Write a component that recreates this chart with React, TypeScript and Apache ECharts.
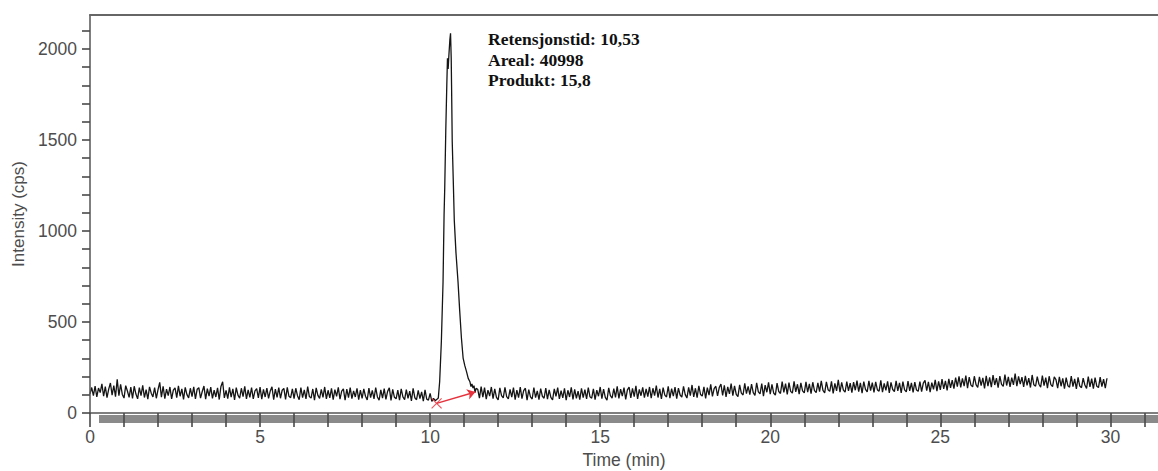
import React, { useEffect, useRef } from "react";
import * as echarts from "echarts";

// ---- Data ----
const sampleStep = 0.05; // min between baseline samples
const preStart = 0.0;
const prePeakIntensity = [
  105, 140, 96, 148, 88, 137, 112, 160, 92, 145, 84, 131, 165, 98, 150, 90, 185, 95, 158, 102,
  82, 150, 121, 86, 142, 80, 147, 104, 78, 139, 96, 152, 85, 128, 76, 144, 109, 88, 140, 81,
  128, 168, 87, 147, 79, 131, 95, 143, 77, 126, 138, 84, 149, 92, 133, 75, 141, 101, 83, 136,
  90, 144, 78, 130, 139, 82, 118, 148, 76, 134, 93, 142, 80, 125, 88, 138, 74, 146, 172, 83,
  124, 79, 141, 87, 133, 72, 139, 98, 81, 136, 90, 146, 77, 127, 86, 140, 78, 122, 134, 83,
  142, 76, 130, 88, 137, 80, 121, 144, 73, 131, 86, 139, 81, 125, 135, 75, 141, 92, 84, 133,
  79, 136, 95, 73, 140, 85, 127, 77, 145, 90, 82, 132, 71, 138, 97, 80, 130, 86, 143, 78,
  125, 83, 135, 74, 128, 91, 141, 76, 120, 133, 70, 131, 85, 139, 79, 122, 88, 136, 73, 126,
  81, 132, 92, 72, 137, 84, 124, 77, 140, 88, 71, 127, 82, 134, 75, 119, 138, 69, 130, 86,
  78, 126, 70, 133, 88, 74, 129, 80, 120, 67, 135, 84, 73, 124, 79, 116, 65, 127, 76, 71,
  108, 64, 80,
];
const peakTimes = [
  10.15, 10.2, 10.24, 10.28, 10.33, 10.38, 10.41, 10.43, 10.46, 10.49,
  10.51, 10.53, 10.55, 10.58, 10.6, 10.62, 10.63, 10.65, 10.68, 10.71,
  10.76, 10.82, 10.87, 10.92, 10.97, 11.02, 11.07, 11.12, 11.17, 11.2,
  11.23, 11.26, 11.29, 11.32, 11.35,
];
const peakIntensity = [
  68, 75, 82, 172, 392, 721, 1088, 1240, 1550, 1800,
  1949, 1890, 1960, 2050, 2086, 1950, 1802, 1491, 1280, 1060,
  880, 721, 560, 412, 302, 260, 227, 190, 172, 145,
  160, 137, 150, 112, 135,
];
const postStart = 11.4;
const postPeakIntensity = [
  130, 82, 145, 87, 139, 76, 126, 93, 143, 79, 133, 86, 72, 138, 96, 83, 141, 90, 77, 130,
  87, 139, 74, 126, 84, 142, 79, 123, 136, 71, 129, 89, 77, 140, 85, 121, 73, 134, 92, 81,
  137, 76, 127, 86, 72, 133, 92, 139, 78, 123, 83, 135, 70, 125, 88, 141, 75, 130, 81, 120,
  74, 136, 84, 128, 77, 140, 89, 81, 133, 74, 126, 92, 143, 79, 131, 86, 70, 138, 95, 82,
  134, 86, 146, 80, 131, 93, 139, 75, 127, 142, 83, 135, 90, 149, 77, 130, 95, 141, 84, 133,
  90, 143, 81, 136, 96, 150, 85, 132, 77, 140, 98, 88, 147, 82, 134, 93, 142, 79, 137, 99,
  87, 146, 101, 82, 141, 96, 154, 89, 136, 84, 149, 102, 93, 144, 80, 139, 98, 157, 91, 134,
  147, 94, 140, 159, 97, 152, 88, 143, 105, 162, 95, 149, 103, 90, 155, 109, 99, 163, 106, 146,
  101, 159, 112, 97, 166, 116, 105, 162, 93, 153, 114, 168, 103, 157, 110, 98, 164, 118, 107, 172,
  113, 161, 102, 167, 119, 109, 174, 116, 158, 104, 165, 122, 111, 171, 115, 160, 106, 169, 123, 112,
  166, 117, 177, 124, 111, 171, 128, 119, 174, 108, 163, 122, 182, 114, 168, 126, 115, 173, 121, 164,
  112, 170, 125, 178, 118, 165, 109, 173, 130, 116, 176, 123, 167, 113, 171, 127, 120, 179, 115, 163,
  124, 174, 111, 168, 129, 118, 177, 122, 165, 110, 172, 127, 116, 175, 121, 166, 113, 170, 126, 119,
  173, 117, 164, 179, 123, 171, 114, 167, 130, 182, 120, 174, 127, 186, 132, 176, 124, 188, 138, 180,
  134, 194, 145, 201, 141, 190, 148, 206, 137, 197, 153, 144, 202, 156, 140, 199, 150, 193, 135, 204,
  147, 196, 142, 208, 154, 192, 139, 203, 157, 146, 211, 151, 199, 143, 194, 155, 216, 148, 201, 159,
  197, 144, 204, 152, 192, 140, 209, 155, 147, 200, 158, 142, 206, 151, 195, 137, 202, 156, 145, 198,
  184, 136, 199, 147, 190, 134, 194, 150, 142, 203, 145, 188, 132, 196, 148, 139, 192, 154, 135, 200,
  143, 189, 134, 195, 147, 140, 197, 145, 186, 137, 191,
];
const integrationStart = [10.19, 53];
const integrationEnd = [11.33, 115];
const xTickValues = [
  0, 1, 2, 3, 4, 5, 6, 7, 8, 9, 10, 11, 12, 13, 14, 15, 16, 17, 18, 19, 20,
  21, 22, 23, 24, 25, 26, 27, 28, 29, 30, 31,
];
const xLabelValues = [0, 5, 10, 15, 20, 25, 30];
const yTickValues = [
  0, 100, 200, 300, 400, 500, 600, 700, 800, 900, 1000, 1100, 1200, 1300, 1400,
  1500, 1600, 1700, 1800, 1900, 2000, 2100,
];
const yLabelValues = [0, 500, 1000, 1500, 2000];
const annotationLines = ["Retensjonstid: 10,53", "Areal: 40998", "Produkt: 15,8"];
const xAxisName = "Time (min)";
const yAxisName = "Intensity (cps)";

const round2 = (v: number) => Math.round(v * 100) / 100;

export default function App() {
  const ref = useRef<HTMLDivElement>(null);
  useEffect(() => {
    if (!ref.current) return;
    const chart = echarts.init(ref.current, null, { renderer: "svg" });
    const traceData: number[][] = [];
    prePeakIntensity.forEach((v, i) => traceData.push([round2(preStart + i * sampleStep), v]));
    peakTimes.forEach((t, i) => traceData.push([t, peakIntensity[i]]));
    postPeakIntensity.forEach((v, i) => traceData.push([round2(postStart + i * sampleStep), v]));

    const axisColor = "#555555";
    const labelFont = "Liberation Sans, Arial, sans-serif";

    chart.setOption({
      animation: false,
      backgroundColor: "#ffffff",
      grid: {
        left: 90,
        right: 0,
        top: 15,
        bottom: 58,
        containLabel: false,
        outerBoundsMode: "none",
      },
      xAxis: [
        {
          type: "value",
          min: 0,
          max: 31.4,
          position: "bottom",
          z: 5,
          name: xAxisName,
          nameLocation: "middle",
          nameGap: 38,
          nameTextStyle: { fontSize: 17.5, color: "#4d4d4d", fontFamily: labelFont },
          axisLine: { show: true, onZero: false, lineStyle: { color: axisColor, width: 1.5 } },
          axisTick: {
            show: true,
            length: 14,
            customValues: xTickValues,
            lineStyle: { color: "#4a4a4a", width: 1.6 },
          },
          axisLabel: {
            show: true,
            customValues: xLabelValues,
            formatter: (v: number) => String(v),
            fontSize: 17.5,
            color: "#4d4d4d",
            fontFamily: labelFont,
            margin: 15,
          },
          splitLine: { show: false },
        },
        {
          type: "value",
          min: 0,
          max: 31.4,
          position: "top",
          z: 5,
          axisLine: { show: true, onZero: false, lineStyle: { color: "#666666", width: 2 } },
          axisTick: { show: false },
          axisLabel: { show: false },
          splitLine: { show: false },
        },
      ],
      yAxis: {
        type: "value",
        min: 0,
        max: 2187,
        z: 5,
        name: yAxisName,
        nameLocation: "middle",
        nameGap: 60,
        nameTextStyle: { fontSize: 17, color: "#4d4d4d", fontFamily: labelFont },
        axisLine: { show: true, onZero: false, lineStyle: { color: axisColor, width: 1.5 } },
        axisTick: {
          show: true,
          length: 8,
          customValues: yTickValues,
          lineStyle: { color: "#4a4a4a", width: 1.6 },
        },
        axisLabel: {
          show: true,
          customValues: yLabelValues,
          formatter: (v: number) => String(v),
          fontSize: 17.5,
          color: "#4d4d4d",
          fontFamily: labelFont,
          margin: 13,
        },
        splitLine: { show: false },
      },
      graphic: [
        {
          type: "rect",
          z: 1,
          shape: { x: 99, y: 415, width: 1070, height: 8 },
          style: { fill: "#8a8a8a" },
          silent: true,
        },
        {
          type: "text",
          z: 10,
          x: 488,
          y: 29,
          style: {
            text: annotationLines.join("\n"),
            font: "bold 17.5px 'Liberation Serif', 'Times New Roman', serif",
            lineHeight: 20.5,
            fill: "#111111",
          },
          silent: true,
        },
      ],
      series: [
        {
          type: "line",
          data: traceData,
          showSymbol: false,
          symbol: "none",
          z: 3,
          lineStyle: { color: "#151515", width: 1.3 },
          markLine: {
            silent: true,
            symbol: ["none", "arrow"],
            symbolSize: 8,
            label: { show: false },
            lineStyle: { color: "#e5323c", width: 1.5, type: "solid" },
            data: [[{ coord: integrationStart }, { coord: integrationEnd }]],
          },
        },
        {
          type: "scatter",
          data: [integrationStart],
          symbol: "path://M0,0L10,10M10,0L0,10",
          symbolSize: 10,
          z: 4,
          itemStyle: { color: "none", borderColor: "#e5323c", borderWidth: 1.2 },
        },
      ],
    });
    return () => chart.dispose();
  }, []);
  return (
    <div
      ref={ref}
      style={{ position: "fixed", left: 0, top: 0, width: 1158, height: 471 }}
    />
  );
}
